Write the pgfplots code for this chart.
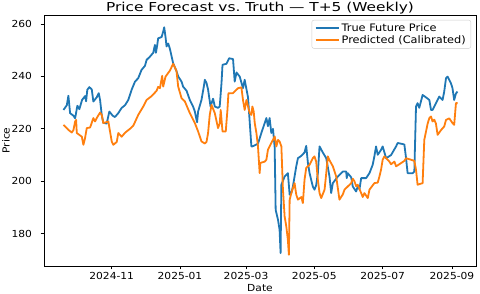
\documentclass[border=0pt]{standalone}
\usepackage{pgfplots}
\pgfplotsset{compat=1.18}
\usepackage{fontspec}
\setmainfont[FakeStretch=1.1]{DejaVu Sans}
\newfontfamily\titlefont[FakeStretch=1.25]{DejaVu Sans}
\definecolor{tabblue}{HTML}{1F77B4}
\definecolor{taborange}{HTML}{FF7F0E}
\begin{document}
\begin{tikzpicture}[x=1pt,y=1pt]
\useasboundingbox (0,0) rectangle (480,293);
\begin{axis}[
  at={(44pt,27pt)}, anchor=south west,
  width=432pt, height=251pt, scale only axis,
  xmin=-60.5, xmax=325.5, ymin=167.7, ymax=263.4,
  axis line style={line width=0.75pt},
  tick align=outside, tick pos=left,
  major tick length=3.3pt,
  every tick/.style={black, line width=0.75pt},
  xtick={0,61,120,181,242,304},
  xticklabels={2024-11,2025-01,2025-03,2025-05,2025-07,2025-09},
  ytick={180,200,220,240,260},
  /pgf/number format/assume math mode=true,
  ticklabel style={font=\fontsize{9.7}{11}\selectfont},
  every x tick label/.style={anchor=base, inner sep=0pt, yshift=-10pt},
  every y tick label/.style={anchor=east, inner sep=0pt, xshift=-8.5pt},
  title={Price Forecast vs.\ Truth — T+5 (Weekly)},
  every axis title/.style={at={(axis description cs:0.5,1.015)}, anchor=base, inner sep=0pt, font=\titlefont\fontsize{12.3}{14}\selectfont},
  xlabel={Date},
  every axis x label/.style={at={(axis description cs:0.5,-0.0996)}, anchor=base, inner sep=0pt, font=\fontsize{9.7}{11}\selectfont},
  ylabel={Price},
  every axis y label/.style={at={(axis description cs:-0.088,0.5)}, rotate=90, anchor=center, inner sep=0pt, font=\fontsize{9.7}{11}\selectfont},
  legend style={at={(rel axis cs:1,1)}, anchor=north east, xshift=-5pt, yshift=-5pt,
    draw=black!20, rounded corners=2pt, fill=white, fill opacity=0.8, text opacity=1,
    font=\fontsize{10.3}{11.5}\selectfont, inner xsep=3pt, inner ysep=1.5pt, row sep=-1.5pt},
  legend cell align=left,
  legend image code/.code={\draw[#1] (0pt,0pt) -- (23pt,0pt);},
]
\addplot[tabblue, line width=1.8pt, line join=round] coordinates {
(-43.1,227.2) (-40.1,229) (-38.7,232.6) (-37.2,226) (-34.2,225) (-32.7,224) (-30.7,228.8) (-28.9,227.5) (-26.5,231) (-23.8,232.5) (-22.9,230.5) (-21.8,234.9) (-20,235.9) (-17.8,235) (-16.4,230.4) (-13.4,232) (-11.6,233.6) (-10.4,231) (-8.9,225.3) (-7.5,222.3) (-4.5,222) (-2.1,226.6) (0.9,225) (2.9,224.5) (5.9,226) (8.9,228) (11.9,229) (14.8,231) (17.8,234.9) (20.8,238) (23.7,239.3) (26.7,242.5) (29.7,244) (31.2,246.3) (34.1,247.5) (37.1,249) (38.6,252) (39.5,249) (40.7,252) (41.5,254.5) (44.6,255) (46,257.1) (46.9,258.7) (48.1,255) (49,251.4) (50.5,252.5) (52,250.5) (54.9,245) (57.9,242) (59.4,240) (62.4,238) (63.8,236.1) (66.9,234.5) (69.8,231) (72.7,228.5) (74.3,226.6) (75.8,223.4) (76.3,222.5) (77.2,226.6) (80.2,231) (82.3,236.1) (83.2,238.7) (84.7,237.5) (86.1,235) (88.3,228.5) (90.6,231.5) (92.1,228.5) (95,228) (96.5,228.5) (98.1,237.4) (99,244.4) (102.5,244.8) (104.9,246.9) (108.4,246.6) (109.9,238) (111.5,241.5) (114.4,239.9) (117.3,235.5) (118.8,238.7) (121.8,232) (124.8,213.3) (125.7,213.3) (130.7,214.3) (133.7,218.4) (136.7,222.2) (138.2,224.1) (139.6,221) (141.1,224.1) (142.6,218.4) (144.1,220) (145.6,213) (146.5,189.1) (148.6,185.3) (150,181.5) (150.9,172.6) (151.6,198.7) (154.5,201.8) (157.4,203.1) (159,194.9) (160.5,195.5) (161.9,198) (164.9,205.7) (166.4,208.8) (169.4,209.7) (172.3,211) (173.8,213.5) (175.3,207) (176.8,203.1) (179.7,198) (181.2,196.8) (182.7,198.5) (184.2,203.1) (185.7,213.3) (188.6,211) (191.7,208.8) (194.6,201.8) (196.1,195.5) (197.6,199.3) (202,201.8) (206.5,203.7) (209.5,203.7) (210,201.2) (210.9,203.1) (214,201.5) (215.4,198) (218.4,196.1) (219.8,198) (221.4,197) (222.9,201.2) (227.3,201.2) (230.3,203.1) (233.2,206.3) (234.7,209.5) (236.2,213.3) (237.7,210.1) (240.7,212) (242.1,213.3) (245.2,208.8) (249.6,210) (254.1,213.3) (255.5,214.6) (260,214.2) (261.5,214) (263,208.8) (264.4,203.1) (268.9,203.1) (270.4,203.7) (271.9,228.5) (273.3,229.8) (274.8,228) (277.8,232.9) (280.8,232) (283.8,231) (285.3,227.2) (286.7,227.2) (292.7,232.3) (295.6,231) (297.1,234.2) (298.7,239.3) (300.1,239.9) (303.1,237.4) (304.5,235.5) (306,231) (307.6,233.5) (309,234.2)
};
\addlegendentry{True Future Price}
\addplot[taborange, line width=1.8pt, line join=round] coordinates {
(-43.1,221.5) (-38.7,219.6) (-35.7,218.6) (-34.2,219.5) (-32.7,222.8) (-31.8,223.4) (-31.2,218.4) (-26.7,217) (-25.3,213.9) (-23.8,216.5) (-22.3,220.3) (-19.3,220.5) (-16.4,224.1) (-14.9,222.8) (-13.4,224.1) (-10.4,226.2) (-8.9,225.3) (-7.5,222.2) (-3,222.8) (0,215.2) (1.4,213.9) (4.5,215) (5.9,218.4) (8.9,217) (11.9,218.5) (16.3,220) (19.3,221.2) (23.7,225.3) (28.2,228.5) (31.2,231) (35.7,232.5) (40.1,234.5) (41.5,236) (43.1,235.5) (45.1,240.2) (46,236.1) (48.1,239.9) (52,242.2) (54.9,244.8) (56.4,243.5) (57.9,242) (59.4,236.1) (62.4,231.7) (65.3,230.5) (69.8,226) (74.3,222.2) (77.2,219) (80.2,215.2) (83.2,214.4) (84.7,215) (86.1,218.4) (87.6,225.3) (89.2,229.1) (92.1,226) (95,220.3) (96.5,222) (97.4,227.2) (99,219) (101.9,219) (103.4,227.2) (104.3,233.6) (108.4,233.6) (112.9,235.5) (115.9,235.8) (117.3,231) (118.8,227.2) (120.4,231) (123.3,226) (124.8,225.3) (125.7,228.5) (126.9,226.5) (127.8,222.2) (129.3,218.4) (130.7,213.3) (132.2,203.1) (132.8,207) (136.7,207.5) (138.2,208.2) (139.6,212) (142.6,214.6) (144.1,215.8) (145.6,217.1) (147.1,213.3) (148.6,215.8) (150,215.2) (151.6,213.3) (153,196.8) (154.5,186.6) (156,182.8) (157.4,177.7) (158.3,172) (159,193) (160.5,195.5) (163.4,199.3) (164.9,194.9) (166.4,193) (169.4,194) (170.8,191.7) (172.3,200.6) (173.8,205.1) (176.8,206.3) (179.7,208.8) (181.2,209.5) (182.7,207.5) (184.2,200.6) (185.7,195.5) (187.2,193.6) (190.2,196.8) (191.7,203.1) (193.1,209.5) (194.6,208) (197.6,205.7) (200.6,201.8) (202,197.5) (203.5,193) (206.5,195) (208,196.8) (214,199.3) (215.4,201) (216.9,200) (218.4,198.1) (219.8,198.7) (222.9,195.5) (224.3,194) (225.8,195.5) (228.8,193.6) (230.3,196.8) (234.7,199.3) (237.7,199.5) (239.2,201.8) (240.7,204.5) (242.1,208.2) (243.6,209.5) (248.1,207.5) (249.6,206.5) (252.6,207.5) (254.1,205.7) (257,206.5) (261.5,207.8) (263,208.8) (267.5,208.2) (270.4,207.8) (271.9,204.4) (273.3,198.7) (277.8,199.3) (279.3,215.8) (282.3,222) (283.8,224.1) (285.3,224.7) (286.7,222.8) (288.2,223.5) (289.7,222) (291.2,217.7) (294.2,219.5) (297.1,220.9) (298.7,223.4) (301.6,224) (304.5,222.2) (306,221.5) (307.6,229.8) (309,229.8)
};
\addlegendentry{Predicted (Calibrated)}
\end{axis}
\end{tikzpicture}
\end{document}
